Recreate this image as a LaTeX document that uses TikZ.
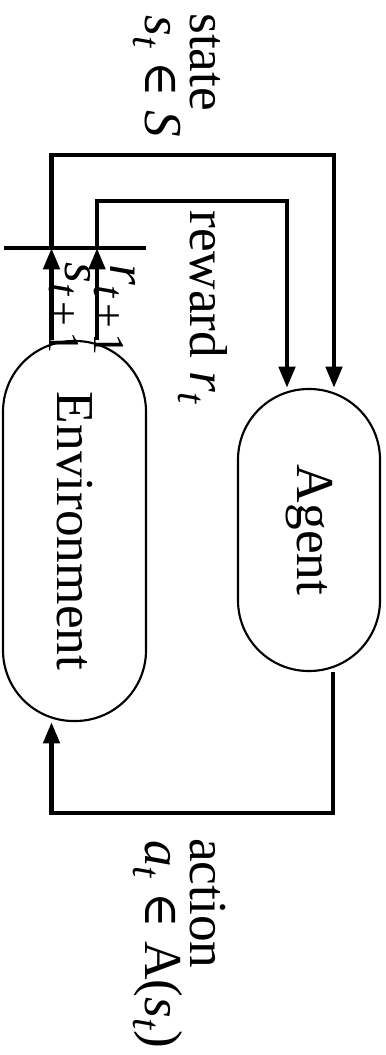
\documentclass[tikz,border=0pt]{standalone}
\usepackage{fontspec}
\usepackage{graphicx}
\setmainfont{Liberation Serif}
\newfontfamily\symf{DejaVu Serif}
\usetikzlibrary{arrows.meta,calc}
\newcommand{\lsub}[1]{\raisebox{-0.22em}{\fontsize{30}{30}\selectfont #1}}
\newcommand{\lsubb}[1]{\raisebox{-0.3em}{\fontsize{33}{33}\selectfont #1}}
\newcommand{\elem}{{\symf\fontsize{36}{36}\selectfont ∈}}
\begin{document}
\begin{tikzpicture}[x=0.75pt,y=-0.75pt,
  box/.style={draw, line width=1.6pt, rounded corners=53pt, inner sep=0pt,
    font=\fontsize{40}{40}\selectfont},
  conn/.style={line width=3.5pt, -{Triangle[length=16pt,width=12pt]}},
  wire/.style={line width=3.5pt},
  lbl/.style={rotate=-90, anchor=base west, inner sep=0pt, font=\fontsize{40}{40}\selectfont}]
\useasboundingbox (0,0) rectangle (385,1055);
\node[box, minimum width=107.25pt, minimum height=285pt] (env) at (74.5,531) {\rotatebox{-90}{Environment}};
\node[box, minimum width=106.5pt, minimum height=211.5pt] (agent) at (309,530) {\rotatebox{-90}{Agent}};
\coordinate (sT) at (51.5,155);
\coordinate (sR) at (334,155);
\coordinate (rT) at (97,201);
\coordinate (rR) at (287,201);
\coordinate (xL) at (4,248);
\coordinate (xR) at (146,248);
\coordinate (aB) at (333,813);
\coordinate (aL) at (51.5,813);
\draw[wire] (xL) -- (xR);
\draw[conn] (env.north -| sT) -- (sT |- xL);
\draw[conn] (sT |- xL) -- (sT) -- (sR) -- (agent.north -| sR);
\draw[conn] (env.north -| rT) -- (rT |- xL);
\draw[conn] (rT |- xL) -- (rT) -- (rR) -- (agent.north -| rR);
\draw[conn] (agent.south -| aB) -- (aB) -- (aL) -- (env.south -| aL);
\node[lbl] (lstate) at (190,13) {state};
\node[lbl] (lstate2) at (145,15) {\textit{s}\lsub{\textit{t}} \elem{} \textit{S}};
\node[lbl] (lreward) at (190,210) {reward \textit{r}\lsub{\textit{t}}};
\node[lbl] (laction) at (190,838) {action};
\node[lbl] (laction2) at (145,840) {\textit{a}\lsub{\textit{t}} \elem{} A(\textit{s}\lsub{\textit{t}})};
\node[lbl] (ls1) at (65,262) {\textit{s}\lsubb{\textit{t}\kern0.12em+\kern0.12em1}};
\node[lbl] (lr1) at (110,264) {\textit{r}\lsubb{\textit{t}\kern0.12em+\kern0.12em1}};
\end{tikzpicture}
\end{document}
